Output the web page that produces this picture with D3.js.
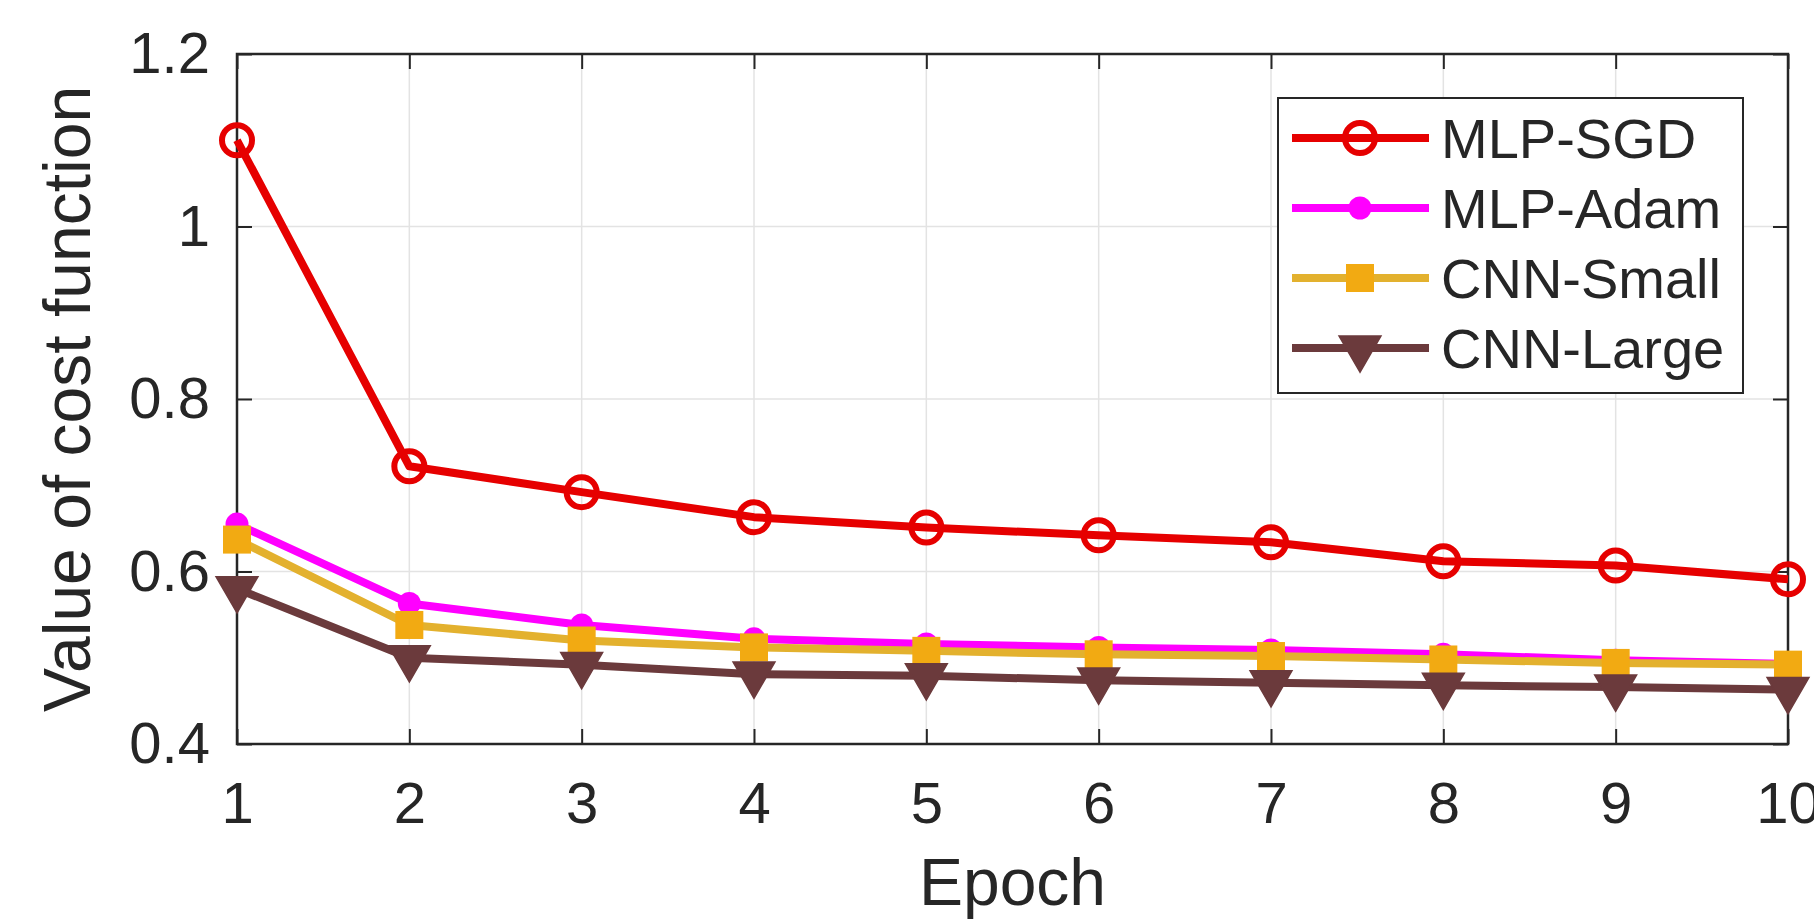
<!DOCTYPE html>
<html><head><meta charset="utf-8">
<script src="https://cdn.jsdelivr.net/npm/d3@7"></script>
<style>
body{margin:0;background:#fff;overflow:hidden;}
text{font-family:"Liberation Sans",Arial,Helvetica,sans-serif;fill:#262626;}
</style>
</head><body>
<svg id="chart" width="1814" height="924"></svg>
<script>
// ---- data ----
const epochs = [1,2,3,4,5,6,7,8,9,10];
const mlpSgd   = [1.100, 0.722, 0.692, 0.663, 0.651, 0.642, 0.634, 0.612, 0.607, 0.591];
const mlpAdam  = [0.655, 0.563, 0.538, 0.522, 0.516, 0.512, 0.509, 0.504, 0.497, 0.493];
const cnnSmall = [0.637, 0.538, 0.520, 0.512, 0.508, 0.504, 0.502, 0.498, 0.494, 0.492];
const cnnLarge = [0.580, 0.500, 0.492, 0.481, 0.479, 0.474, 0.471, 0.468, 0.466, 0.463];
const seriesNames = ["MLP-SGD","MLP-Adam","CNN-Small","CNN-Large"];
const xTickValues = [1,2,3,4,5,6,7,8,9,10];
const yTickValues = [0.4,0.6,0.8,1,1.2];
const xLabel = "Epoch";
const yLabel = "Value of cost function";

// ---- styles ----
const styles = [
  {color:"#e60000", marker:"circleOpen", mcolor:"#e60000"},
  {color:"#ff00ff", marker:"dot",        mcolor:"#ff00ff"},
  {color:"#e3b12e", marker:"square",     mcolor:"#f2aa12"},
  {color:"#6b3a3c", marker:"triDown",    mcolor:"#6b3a3c"}
];
const seriesValues = [mlpSgd, mlpAdam, cnnSmall, cnnLarge];
const series = seriesNames.map((n,i)=>({name:n, values:seriesValues[i], ...styles[i]}));

const svg = d3.select("#chart");
svg.append("rect").attr("width",1814).attr("height",924).attr("fill","#fff");

const L=237, R=1788, T=54, B=744;
const x = d3.scaleLinear().domain([1,10]).range([L,R]);
const y = d3.scaleLinear().domain([0.4,1.2]).range([B,T]);
const axisColor="#262626";

// grid
const grid = svg.append("g");
grid.selectAll(".gx").data(xTickValues).join("line")
  .attr("x1",d=>x(d)).attr("x2",d=>x(d)).attr("y1",T).attr("y2",B)
  .attr("stroke","#e3e3e3").attr("stroke-width",1.5);
grid.selectAll(".gy").data(yTickValues).join("line")
  .attr("y1",d=>y(d)).attr("y2",d=>y(d)).attr("x1",L).attr("x2",R)
  .attr("stroke","#e3e3e3").attr("stroke-width",1.5);

// axes
const fmt = d=>d3.format("~g")(d);
function styleAxis(g, labels){
  g.select(".domain").remove();
  g.selectAll(".tick line").attr("stroke",axisColor).attr("stroke-width",2);
  if(!labels) g.selectAll(".tick text").remove();
  else g.selectAll(".tick text").attr("fill","#262626").style("font-size","58px")
        .style("font-family","'Liberation Sans',Arial,sans-serif");
}
svg.append("g").attr("transform",`translate(0,${B})`)
  .call(d3.axisBottom(x).tickValues(xTickValues).tickFormat(fmt).tickSizeInner(-15).tickSizeOuter(0).tickPadding(38))
  .call(g=>styleAxis(g,true));
svg.append("g").attr("transform",`translate(0,${T})`)
  .call(d3.axisTop(x).tickValues(xTickValues).tickSizeInner(-15).tickSizeOuter(0))
  .call(g=>styleAxis(g,false));
svg.append("g").attr("transform",`translate(${L},0)`)
  .call(d3.axisLeft(y).tickValues(yTickValues).tickFormat(fmt).tickSizeInner(-15).tickSizeOuter(0).tickPadding(27))
  .call(g=>styleAxis(g,true));
svg.append("g").attr("transform",`translate(${R},0)`)
  .call(d3.axisRight(y).tickValues(yTickValues).tickSizeInner(-15).tickSizeOuter(0))
  .call(g=>styleAxis(g,false));

// box
svg.append("rect").attr("x",L).attr("y",T).attr("width",R-L).attr("height",B-T)
  .attr("fill","none").attr("stroke",axisColor).attr("stroke-width",2.5);

// axis labels
svg.append("text").attr("x",(L+R)/2).attr("y",905).attr("text-anchor","middle")
  .style("font-size","66px").text(xLabel);
svg.append("text").attr("transform",`translate(${90},${(T+B)/2}) rotate(-90)`)
  .attr("text-anchor","middle").style("font-size","66px").text(yLabel);

// markers
function drawMarker(g, s, cx, cy){
  if(s.marker==="circleOpen"){
    g.append("circle").attr("cx",cx).attr("cy",cy).attr("r",15)
      .attr("fill","none").attr("stroke",s.mcolor).attr("stroke-width",6);
  } else if(s.marker==="dot"){
    g.append("circle").attr("cx",cx).attr("cy",cy).attr("r",11.5).attr("fill",s.mcolor);
  } else if(s.marker==="square"){
    g.append("rect").attr("x",cx-14).attr("y",cy-14).attr("width",28).attr("height",28)
      .attr("fill",s.mcolor);
  } else {
    g.append("path").attr("d",d3.symbol(d3.symbolTriangle, 760)())
      .attr("transform",`translate(${cx},${cy}) rotate(180)`)
      .attr("fill",s.mcolor).attr("stroke",s.mcolor).attr("stroke-width",1.5);
  }
}

const line = d3.line().x((d,i)=>x(epochs[i])).y(d=>y(d));
const plot = svg.append("g");
series.forEach(s=>{
  const g = plot.append("g");
  g.append("path").datum(s.values).attr("d",line).attr("fill","none")
    .attr("stroke",s.color).attr("stroke-width",8).attr("stroke-linejoin","round");
  s.values.forEach((v,i)=>drawMarker(g,s,x(epochs[i]),y(v)));
});

// legend
const lg = svg.append("g");
lg.append("rect").attr("x",1278).attr("y",98).attr("width",465).attr("height",295)
  .attr("fill","#fff").attr("stroke",axisColor).attr("stroke-width",2);
series.forEach((s,i)=>{
  const cy = 138 + i*70;
  lg.append("line").attr("x1",1292).attr("x2",1429).attr("y1",cy).attr("y2",cy)
    .attr("stroke",s.color).attr("stroke-width",8);
  drawMarker(lg,s,1360,cy);
  lg.append("text").attr("x",1441).attr("y",cy).attr("dy","0.36em")
    .style("font-size","56px").text(s.name);
});
</script>
</body></html>
